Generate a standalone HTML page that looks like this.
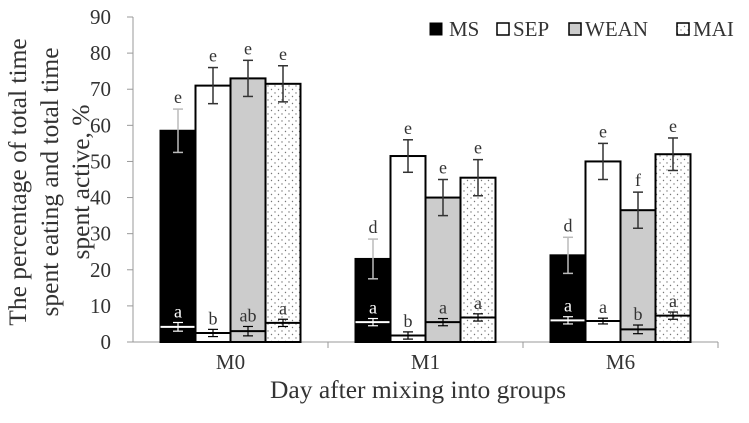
<!DOCTYPE html>
<html><head><meta charset="utf-8"><style>
body{margin:0;background:#fff;}
svg text{font-family:"Liberation Serif",serif;fill:#333;}
</style></head><body>
<svg id="chart" width="749" height="418" viewBox="0 0 749 418" xmlns="http://www.w3.org/2000/svg">
<defs>
<pattern id="dots" width="7" height="7" patternUnits="userSpaceOnUse">
<rect width="7" height="7" fill="#fff"/><circle cx="2" cy="2" r="0.7" fill="#777"/><circle cx="5.5" cy="5.5" r="0.7" fill="#777"/>
</pattern>
</defs>
<g id="axes"></g>
<g id="bars"></g>
<g>
<text transform="translate(26,182) rotate(-90)" text-anchor="middle" font-size="25.5">The percentage of total time</text>
<text transform="translate(58,182) rotate(-90)" text-anchor="middle" font-size="25.5">spent eating and total time</text>
<text transform="translate(89,182) rotate(-90)" text-anchor="middle" font-size="25.5">spent active, %</text>
</g>
<text x="418" y="398" text-anchor="middle" font-size="25.5">Day after mixing into groups</text>
<g font-size="21">
<g><rect x="430" y="23" width="12" height="12" fill="#000" stroke="#000"/><text x="449" y="36">MS</text></g>
<g><rect x="497" y="23" width="12" height="12" fill="#fff" stroke="#000" stroke-width="1.5"/><text x="513" y="36">SEP</text></g>
<g><rect x="569" y="23" width="12" height="12" fill="#ccc" stroke="#000" stroke-width="1.5"/><text x="585" y="36">WEAN</text></g>
<g><rect x="677" y="23" width="12" height="12" fill="url(#dots)" stroke="#000" stroke-width="1.5"/><text x="693" y="36">MAI</text></g>
</g>
</svg>
<script>
const categories = ["M0","M1","M6"];
const series = ["MS","SEP","WEAN","MAI"];
const eatingValues = [[58.5,71,73,71.5],[23,51.5,40,45.5],[24,50,36.5,52]];
const eatingErrors = [[6,5,5,5],[5.5,4.5,5,5],[5,5,5,4.5]];
const eatingLetters = [["e","e","e","e"],["d","e","e","e"],["d","e","f","e"]];
const activeValues = [[4.2,2.5,3,5.3],[5.5,1.8,5.5,6.8],[6,5.8,3.5,7.3]];
const activeErrors = [[1.2,1,1.3,1],[1,1,1,1],[1,0.8,1.2,1]];
const activeLetters = [["a","b","ab","a"],["a","b","a","a"],["a","a","b","a"]];
const yTicks = [0,10,20,30,40,50,60,70,80,90];

const NS="http://www.w3.org/2000/svg";
const X0=133, CW=195, Y0=342, Y90=17;
const y = v => Y0 - v*(Y0-Y90)/90;
const barW=35;
const fills=["#000","#fff","#ccc","url(#dots)"];
function mk(tag, attrs, parent){const e=document.createElementNS(NS,tag);for(const k in attrs)e.setAttribute(k,attrs[k]);parent.appendChild(e);return e;}
const axes=document.getElementById('axes'), bars=document.getElementById('bars');
const ya=mk('line',{x1:X0,y1:Y90,x2:X0,y2:Y0,stroke:'#999','stroke-width':1},axes);


const xa=mk('line',{x1:X0,y1:Y0,x2:X0+CW*3,y2:Y0,stroke:'#999','stroke-width':1},axes);


yTicks.forEach(t=>{
  mk('line',{x1:X0-6,y1:y(t),x2:X0,y2:y(t),stroke:'#999'},axes);
  const tx=mk('text',{x:X0-22,y:y(t)+7,'text-anchor':'end','font-size':21},axes);
  tx.textContent=t;
  
  
});
categories.forEach((c,i)=>{
  const tx=X0+CW*(i+1);
  mk('line',{x1:tx,y1:Y0,x2:tx,y2:Y0+6,stroke:'#999'},axes);
  const lb=mk('text',{x:X0+CW*i+CW/2,y:Y0+27,'text-anchor':'middle','font-size':21},axes);
  lb.textContent=c;
  
  
  const start=X0+CW*i+CW/2-2*barW;
  series.forEach((s,j)=>{
    const bx=start+j*barW, v=eatingValues[i][j], a=activeValues[i][j], cx=bx+barW/2;
    const r=mk('rect',{x:bx,y:y(v),width:barW,height:Y0-y(v),fill:fills[j],stroke:'#000','stroke-width':2},bars);
    
    
    const ec=j==0?'#bbb':'#333';
    const e=eatingErrors[i][j];
    mk('line',{x1:cx,y1:y(v+e),x2:cx,y2:y(v-e),stroke:ec,'stroke-width':1.5},bars);
    mk('line',{x1:cx-5,y1:y(v+e),x2:cx+5,y2:y(v+e),stroke:ec,'stroke-width':1.5},bars);
    mk('line',{x1:cx-5,y1:y(v-e),x2:cx+5,y2:y(v-e),stroke:ec,'stroke-width':1.5},bars);
    const lt=mk('text',{x:cx,y:y(v+e)-6,'text-anchor':'middle','font-size':18},bars);
    lt.textContent=eatingLetters[i][j];
    
    
    const ic=j==0?'#fff':'#000';
    const il=mk('line',{x1:bx,y1:y(a),x2:bx+barW,y2:y(a),stroke:ic,'stroke-width':2},bars);
    
    
    const ae=activeErrors[i][j];
    mk('line',{x1:cx,y1:y(a+ae),x2:cx,y2:y(a-ae),stroke:ic,'stroke-width':1.2},bars);
    mk('line',{x1:cx-5,y1:y(a+ae),x2:cx+5,y2:y(a+ae),stroke:ic,'stroke-width':1.2},bars);
    mk('line',{x1:cx-5,y1:y(a-ae),x2:cx+5,y2:y(a-ae),stroke:ic,'stroke-width':1.2},bars);
    const al=mk('text',{x:cx,y:y(a+ae)-5,'text-anchor':'middle','font-size':18},bars);
    al.textContent=activeLetters[i][j];
    al.setAttribute('style','fill:'+(j==0?'#fff':'#333'));
    
    
  });
});
</script>
</body></html>
